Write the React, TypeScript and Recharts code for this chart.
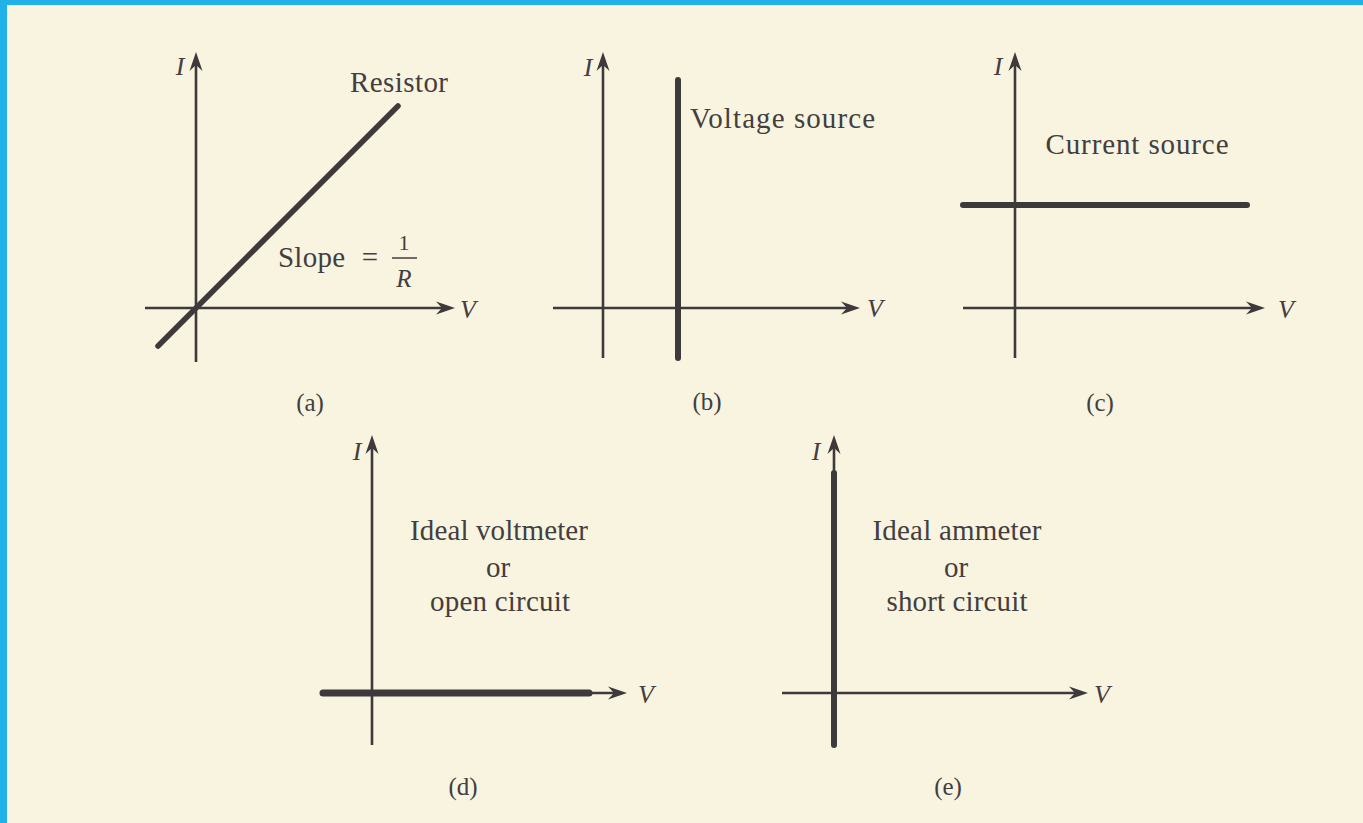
import { Line, LineChart, ReferenceLine, XAxis, YAxis } from 'recharts';

const PAGE_W = 1363;
const PAGE_H = 823;
const PAPER = '#f8f4e0';
const EDGE = '#1fb1e8';
const INK = '#3e393b';
const TEXT = '#433e3f';
const SERIF = "'Liberation Serif', 'DejaVu Serif', serif";

// 1 unit of V or I = 10 px on every panel
const PX = 10;
const SPAN = [-7, 27];
const BOX = (SPAN[1] - SPAN[0]) * PX;

type Pt = { v: number; i: number };

// characteristic curves
const resistorCurve: Pt[] = [
  { v: -3.8, i: -3.8 },
  { v: 20.2, i: 20.2 },
];
const voltageSourceCurve: Pt[] = [
  { v: 7.5, i: -5.0 },
  { v: 7.5, i: 22.8 },
];
const currentSourceCurve: Pt[] = [
  { v: -5.2, i: 10.3 },
  { v: 23.2, i: 10.3 },
];
const openCircuitCurve: Pt[] = [
  { v: -4.9, i: 0 },
  { v: 21.7, i: 0 },
];
const shortCircuitCurve: Pt[] = [
  { v: 0, i: -5.2 },
  { v: 0, i: 22.0 },
];

// axis extents [min, max] for panels a..e
const vAxisRanges = [
  [-5.1, 25.9],
  [-5.0, 25.7],
  [-5.2, 25.0],
  [-4.9, 25.5],
  [-5.2, 25.4],
];
const iAxisRanges = [
  [-5.4, 25.6],
  [-5.0, 25.6],
  [-5.0, 25.6],
  [-5.2, 25.8],
  [-5.2, 25.8],
];

const panelTags = ['(a)', '(b)', '(c)', '(d)', '(e)'];

function Arrow(props: any) {
  const { x1, y1, x2, y2 } = props;
  const dx = x2 - x1;
  const dy = y2 - y1;
  const len = Math.hypot(dx, dy) || 1;
  const ux = dx / len;
  const uy = dy / len;
  const px = -uy;
  const py = ux;
  const L = 19;
  const W = 6.5;
  const N = 13;
  const bx = x2 - ux * L;
  const by = y2 - uy * L;
  const nx = x2 - ux * N;
  const ny = y2 - uy * N;
  return (
    <g>
      <line x1={x1} y1={y1} x2={nx} y2={ny} stroke={INK} strokeWidth={2.6} />
      <path
        d={`M${x2},${y2} L${bx + px * W},${by + py * W} L${nx},${ny} L${bx - px * W},${by - py * W} Z`}
        fill={INK}
      />
    </g>
  );
}

interface PanelProps {
  ox: number;
  oy: number;
  vRange: number[];
  iRange: number[];
  curve: Pt[];
  curveWidth: number;
}

function Panel({ ox, oy, vRange, iRange, curve, curveWidth }: PanelProps) {
  return (
    <div style={{ position: 'absolute', left: ox + SPAN[0] * PX, top: oy - SPAN[1] * PX, width: BOX, height: BOX }}>
      <LineChart width={BOX} height={BOX} margin={{ top: 0, right: 0, bottom: 0, left: 0 }}>
        <XAxis type="number" dataKey="v" domain={SPAN} hide allowDataOverflow />
        <YAxis type="number" dataKey="i" domain={SPAN} hide allowDataOverflow />
        <ReferenceLine
          segment={[{ x: vRange[0], y: 0 }, { x: vRange[1], y: 0 }]}
          shape={Arrow}
          ifOverflow="visible"
        />
        <ReferenceLine
          segment={[{ x: 0, y: iRange[0] }, { x: 0, y: iRange[1] }]}
          shape={Arrow}
          ifOverflow="visible"
        />
        <Line
          data={curve}
          dataKey="i"
          type="linear"
          stroke={INK}
          strokeWidth={curveWidth}
          strokeLinecap="round"
          dot={false}
          isAnimationActive={false}
        />
      </LineChart>
    </div>
  );
}

const origins = [
  [196, 308],
  [603, 308],
  [1015, 308],
  [372, 693],
  [834, 693],
];
const curves = [resistorCurve, voltageSourceCurve, currentSourceCurve, openCircuitCurve, shortCircuitCurve];
const curveWidths = [5.5, 6, 6, 7, 6];

function T({ x, y, children, size = 29, anchor = 'middle', italic = false, len }: any) {
  return (
    <text
      x={x}
      y={y}
      fontSize={size}
      fontFamily={SERIF}
      fontStyle={italic ? 'italic' : 'normal'}
      textAnchor={anchor}
      fill={TEXT}
      textLength={len}
      lengthAdjust={len ? 'spacing' : undefined}
    >
      {children}
    </text>
  );
}

export default function App() {
  const tagPos = [
    [310, 411],
    [707, 410],
    [1100, 411],
    [463, 795],
    [948, 795],
  ];
  const iLabel = [
    [180, 75],
    [588, 76],
    [998, 75],
    [357, 460],
    [816, 460],
  ];
  const vLabel = [
    [468, 318],
    [875, 317],
    [1286, 318],
    [646, 703],
    [1102, 703],
  ];
  return (
    <div style={{ position: 'absolute', left: 0, top: 0, width: PAGE_W, height: PAGE_H, background: PAPER, overflow: 'hidden' }}>
      <div style={{ position: 'absolute', left: 0, top: 0, width: PAGE_W, height: 5, background: EDGE }} />
      <div style={{ position: 'absolute', left: 0, top: 0, width: 7, height: PAGE_H, background: EDGE }} />
      {origins.map(([ox, oy], k) => (
        <Panel
          key={k}
          ox={ox}
          oy={oy}
          vRange={vAxisRanges[k]}
          iRange={iAxisRanges[k]}
          curve={curves[k]}
          curveWidth={curveWidths[k]}
        />
      ))}
      <svg width={PAGE_W} height={PAGE_H} style={{ position: 'absolute', left: 0, top: 0, pointerEvents: 'none' }}>
        {iLabel.map(([x, y], k) => (
          <T key={`i${k}`} x={x} y={y} size={26} italic>
            I
          </T>
        ))}
        {vLabel.map(([x, y], k) => (
          <T key={`v${k}`} x={x} y={y} size={26} italic>
            V
          </T>
        ))}
        {tagPos.map(([x, y], k) => (
          <T key={`t${k}`} x={x} y={y} size={25}>
            {panelTags[k]}
          </T>
        ))}

        <T x={399} y={92} len={98}>Resistor</T>
        <T x={278} y={267} anchor="start" len={67}>Slope</T>
        <T x={370} y={267}>=</T>
        <T x={404} y={250} size={22}>1</T>
        <line x1={392} y1={258} x2={417} y2={258} stroke={TEXT} strokeWidth={1.5} />
        <T x={404} y={287} size={25} italic>R</T>

        <T x={690} y={128} anchor="start" len={185}>Voltage source</T>
        <T x={1137} y={154} len={183}>Current source</T>

        <T x={499} y={540} len={178}>Ideal voltmeter</T>
        <T x={498} y={577}>or</T>
        <T x={500} y={611} len={140}>open circuit</T>

        <T x={957} y={540} len={169}>Ideal ammeter</T>
        <T x={956} y={577}>or</T>
        <T x={957} y={611} len={141}>short circuit</T>
      </svg>
    </div>
  );
}
